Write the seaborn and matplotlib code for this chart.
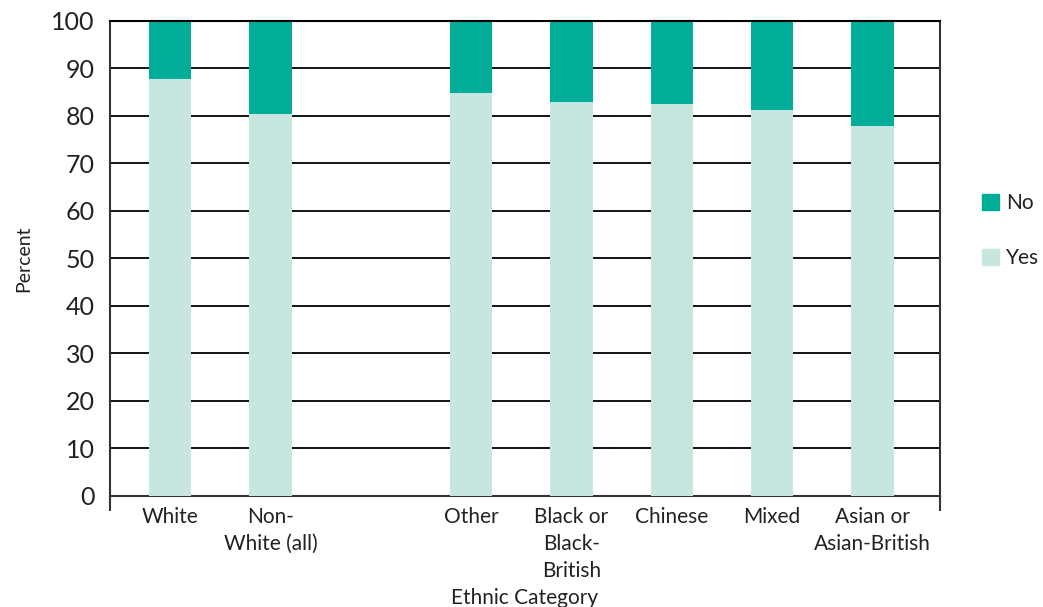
import matplotlib
matplotlib.use("Agg")
import matplotlib.pyplot as plt
import matplotlib.patches as mpatches
import numpy as np
import pandas as pd
import seaborn as sns

categories = ["White", "Non-\nWhite (all)", " ", "Other", "Black or\nBlack-\nBritish",
              "Chinese", "Mixed", "Asian or\nAsian-British"]
plotted = ["White", "Non-\nWhite (all)", "Other", "Black or\nBlack-\nBritish",
           "Chinese", "Mixed", "Asian or\nAsian-British"]
yes = [87.7, 80.3, 84.8, 82.9, 82.4, 81.2, 77.8]
no = [12.3, 19.7, 15.2, 17.1, 17.6, 18.8, 22.2]
yticks = [0, 10, 20, 30, 40, 50, 60, 70, 80, 90, 100]

col_no = "#00ad99"
col_yes = "#c6e6df"

sns.set_style("white")
plt.rcParams['font.family'] = ['Lato', 'DejaVu Sans']

df = pd.DataFrame({"cat": plotted, "yes": yes, "no": no})
df["total"] = df["yes"] + df["no"]

fig = plt.figure(figsize=(10.43, 6.07), dpi=100)
ax = fig.add_axes([0.1055, 0.183, 0.7955, 0.783])

for y in yticks:
    ax.axhline(y, color="black", lw=1.3, zorder=0)

sns.barplot(data=df, x="cat", y="total", order=categories, color=col_no,
            width=0.42, saturation=1, linewidth=0, ax=ax, zorder=2)
sns.barplot(data=df, x="cat", y="yes", order=categories, color=col_yes,
            width=0.42, saturation=1, linewidth=0, ax=ax, zorder=3)

ax.set_xlim(-0.6, 7.67)
ax.set_ylim(0, 100)
ax.set_yticks(yticks)
ax.tick_params(axis="y", labelsize=18, length=0, pad=11, colors="#222222")
ax.tick_params(axis="x", which="major", labelsize=15, length=0, pad=8, colors="#222222")
for lab in ax.get_xticklabels():
    lab.set_linespacing(1.45)
ax.set_xticks([-0.6, 7.67], minor=True)
ax.tick_params(axis="x", which="minor", bottom=True, length=11, width=1.5,
               direction="out", color="#333333")

for side in ["left", "right", "bottom", "top"]:
    ax.spines[side].set_visible(True)
    ax.spines[side].set_color("#333333")
    ax.spines[side].set_linewidth(1.5)
ax.spines["top"].set_color("black")

ax.set_ylabel("Percent", fontsize=14, color="#222222", labelpad=14)
ax.set_xlabel("Ethnic Category", fontsize=15, color="#222222", labelpad=5)

handles = [mpatches.Patch(color=col_no, label="No"),
           mpatches.Patch(color=col_yes, label="Yes")]
fig.legend(handles=handles, loc="center left", bbox_to_anchor=(0.924, 0.62),
           frameon=False, fontsize=15, handlelength=0.8, handleheight=0.8,
           handletextpad=0.35, labelspacing=1.7, labelcolor="#222222")

fig.savefig("out.png", dpi=100)
